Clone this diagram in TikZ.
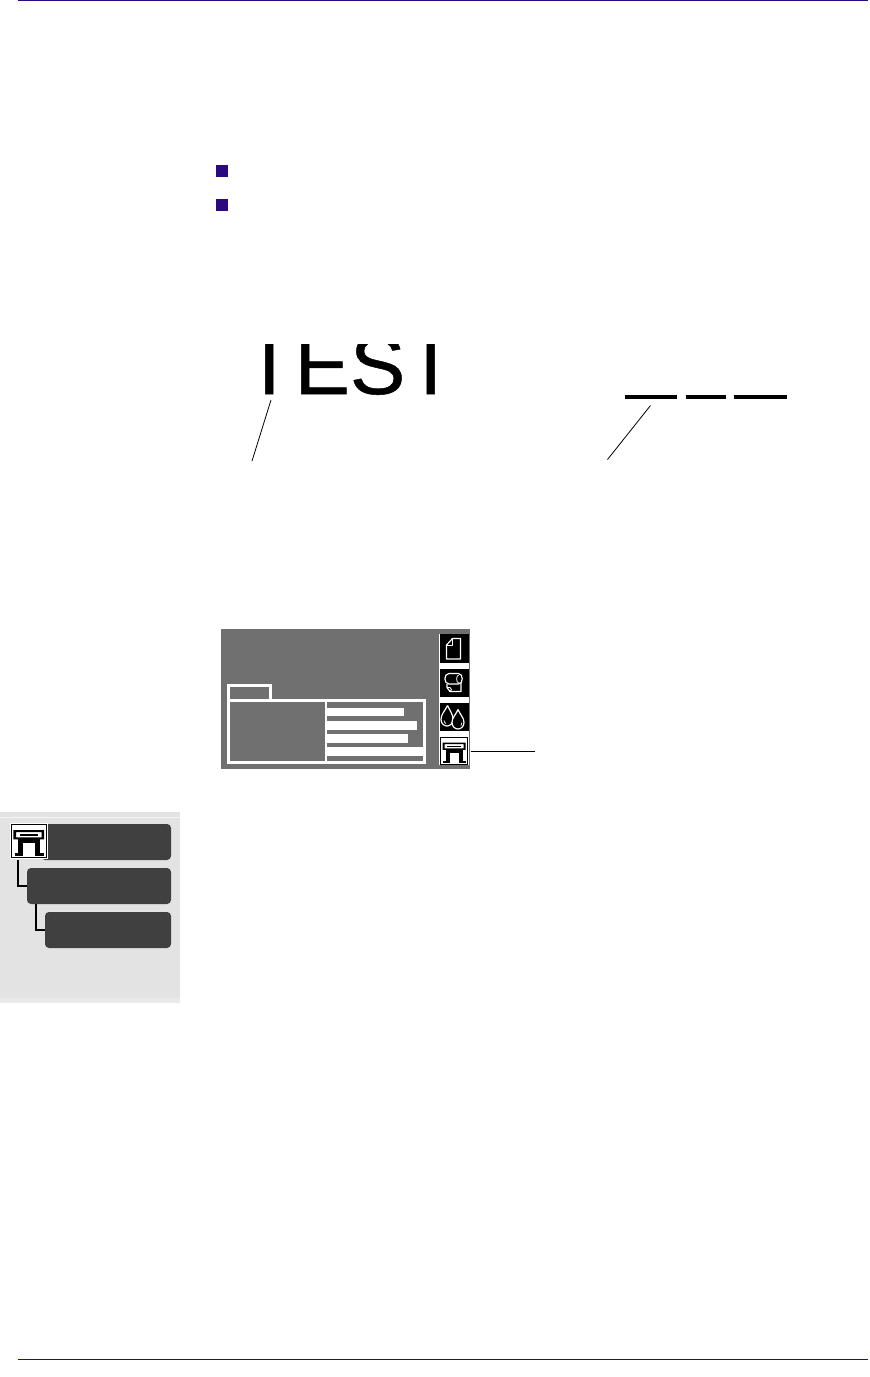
\documentclass[tikz,border=0pt]{standalone}
\usepackage{fontspec}
\usetikzlibrary{calc}
\newfontfamily\headfont[FakeBold=0.6]{Liberation Sans}
\definecolor{inkblue}{HTML}{2A0A7E}
\definecolor{panelgray}{HTML}{707070}
\definecolor{sidegray}{HTML}{E3E3E3}
\definecolor{menugray}{HTML}{404040}
\newcommand*{\PrinterGlyph}[4]{%
  \begin{scope}[shift={(#1,#2)}, x=#3pt, y=-#4pt]
    \fill[black, even odd rule] (0.09,0.20) rectangle (0.90,0.47) (0.16,0.26) rectangle (0.83,0.41);
    \fill[black] (0.26,0.31) rectangle (0.74,0.36);
    \fill[black] (0.20,0.47) rectangle (0.80,0.58);
    \fill[black] (0.22,0.58) rectangle (0.35,0.92);
    \fill[black] (0.67,0.58) rectangle (0.80,0.92);
    \fill[black] (0.12,0.86) rectangle (0.35,0.93);
    \fill[black] (0.67,0.86) rectangle (0.90,0.93);
  \end{scope}}
\tikzset{
  rulerline/.style={inkblue, line width=1.2pt},
  bulletbox/.style={fill=inkblue, minimum size=12pt, inner sep=0pt, outer sep=0pt},
  leader/.style={black, line width=0.8pt},
  dashbar/.style={fill=black, inner sep=0pt, outer sep=0pt, minimum height=4pt},
  slotbox/.style={fill=black, minimum width=29pt, minimum height=29pt, inner sep=0pt, outer sep=0pt},
  listbar/.style={fill=white, inner sep=0pt, outer sep=0pt, minimum height=8.5pt, anchor=west},
  folderline/.style={white, line width=3pt},
  glyphline/.style={white, line width=1.2pt, line join=round},
  menubox/.style={fill=menugray, rounded corners=4pt, minimum height=36pt, inner sep=0pt, outer sep=0pt, anchor=east},
  treeline/.style={black, line width=2pt},
}
\begin{document}
\begin{tikzpicture}[x=1pt, y=-1pt]

\useasboundingbox (0,0) rectangle (870,1377);

% Page rules
\coordinate (topleft) at (18,0.6);
\coordinate (topright) at (868,0.6);
\coordinate (footleft) at (18,1359);
\coordinate (footright) at (868,1359);
\draw[rulerline] (topleft) -- (topright);
\draw[rulerline, line width=1pt] (footleft) -- (footright);

% Bullets
\node[bulletbox] (bulletone) at (222,171) {};
\node[bulletbox] (bullettwo) at (222,205) {};

% Clipped word
\begin{scope}
    \clip (230,344.5) rectangle (460,400);
    \node[anchor=base west, inner sep=0pt, font=\headfont\fontsize{83}{83}\selectfont] (testword) at (243.7,394) {TEST};
\end{scope}
\coordinate (wordtip) at (271,400);
\coordinate (wordfoot) at (252,461);
\draw[leader] (wordtip) -- (wordfoot);

% Dashes
\node[dashbar, minimum width=52pt] (dashone) at (651,397) {};
\node[dashbar, minimum width=40pt] (dashtwo) at (706,397) {};
\node[dashbar, minimum width=53pt] (dashthree) at (760.5,397) {};
\coordinate (dashtip) at (650.5,405.5);
\coordinate (dashfoot) at (607.5,459.5);
\draw[leader] (dashtip) -- (dashfoot);

% Display panel
\fill[panelgray] (221,629) rectangle (470,769);
\fill[white] (439,634) rectangle (468.5,764.5);
\node[slotbox] (slotpage) at (454,648.5) {};
\node[slotbox, minimum height=28pt] (slotroll) at (454,683) {};
\node[slotbox, minimum height=28pt] (slotink) at (454,717) {};
\node[draw=black, fill=white, line width=0.8pt, minimum width=26.5pt, minimum height=26.5pt, inner sep=0pt] (slotprinter) at (454,751) {};
\PrinterGlyph{440}{737}{28.5}{27.5}

% Page glyph
\draw[glyphline] (446.5,645) -- (452.5,638.5) -- (460.5,638.5) -- (460.5,659) -- (446.5,659) -- cycle;
\draw[glyphline, line width=0.8pt] (452.5,638.5) -- (452.5,645) -- (446.5,645);
% Roll glyph
\draw[glyphline] (449,673.5) -- (458.5,673.5) .. controls (463.5,673.5) and (463.5,684) .. (458.5,684) -- (449,684) .. controls (443.5,684) and (443.5,673.5) .. (449,673.5);
\draw[glyphline, line width=0.8pt] (458.5,675) .. controls (456,676) and (456,682) .. (458.5,683);
\draw[glyphline] (447,684) -- (447,687.5) -- (450,691.5) -- (461,691.5) -- (461,683);
\draw[glyphline, line width=0.8pt] (450,691.5) .. controls (452,691) and (452,688) .. (450,687.5) -- (447,687.5);
% Ink glyph
\draw[glyphline] (447.5,705.5) .. controls (445,711) and (441,714) .. (441,719.5) .. controls (441,723.5) and (444,726) .. (447,726) .. controls (450,726) and (453,723.5) .. (453,719.5) .. controls (453,714) and (450,711) .. (447.5,705.5);
\draw[glyphline, fill=black] (458,709.5) .. controls (456,714.5) and (452,717.5) .. (452,722.5) .. controls (452,726.5) and (455,729) .. (458,729) .. controls (461,729) and (464,726.5) .. (464,722.5) .. controls (464,717.5) and (460,714.5) .. (458,709.5);
\draw[glyphline, line width=0.7pt] (444,720.5) .. controls (444,722) and (445,723) .. (446,723.5);
\draw[glyphline, line width=0.7pt] (461,725.5) .. controls (462,724.5) and (462,723.5) .. (462,722.5);

% Folder
\draw[folderline] (228.5,699) -- (228.5,685.5) -- (270.5,685.5) -- (270.5,699);
\draw[folderline] (228.5,700.5) rectangle (424.5,762.5);
\draw[white, line width=2pt] (326,700) -- (326,762);
\node[listbar, minimum width=77pt] (listone) at (327,712.2) {};
\node[listbar, minimum width=90pt] (listtwo) at (327,725.5) {};
\node[listbar, minimum width=81pt] (listthree) at (327,738.5) {};
\node[listbar, minimum width=96pt] (listfour) at (327,751.5) {};

% Leader to printer slot
\coordinate (slotfoot) at (535,751);
\draw[leader] ([xshift=3.5pt]slotprinter.east) -- (slotfoot);

% Side panel
\fill[sidegray] (0,812) rectangle (180,1003);
\fill[white!60!sidegray] (0,817) rectangle (180,818);
\fill[white!25!sidegray] (0,998) rectangle (180,1003);
\node[menubox, minimum width=130pt] (menutop) at (171,842) {};
\node[menubox, minimum width=144pt] (menumid) at (171,886) {};
\node[menubox, minimum width=126pt] (menulow) at (171,930) {};
\node[draw=black, fill=white, line width=1pt, minimum width=35.5pt, minimum height=33pt, inner sep=0pt, outer sep=0pt] (menuicon) at (29,840.5) {};
\draw[white, line width=1pt] (10.2,823.2) rectangle (47.8,858);
\PrinterGlyph{10}{823}{38}{35}
\coordinate (stemone) at (18,860);
\coordinate (stemtwo) at (36,904);
\draw[treeline] (stemone) |- (menumid.west);
\draw[treeline] (stemtwo) |- (menulow.west);

\end{tikzpicture}
\end{document}
